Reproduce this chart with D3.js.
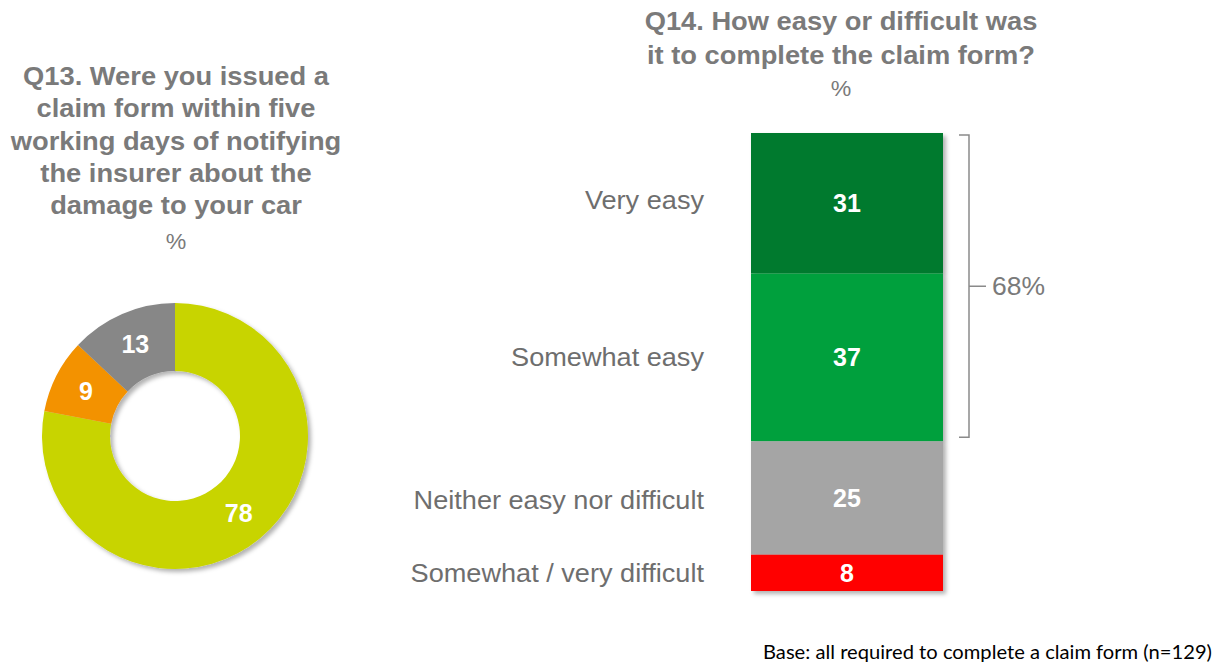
<!DOCTYPE html>
<html><head><meta charset="utf-8">
<script src="https://cdn.jsdelivr.net/npm/d3@7"></script>
<style>body{margin:0;background:#fff;}svg{display:block;}</style>
</head><body>
<svg id="c" width="1221" height="666"></svg>
<script>
const q13Title = ["Q13. Were you issued a","claim form within five","working days of notifying","the insurer about the","damage to your car"];
const q13Labels = ["Yes","No","Don't know"];
const q13Values = [78, 9, 13];
const q13Colors = ["#c8d400","#f39200","#878787"];

const q14Title = ["Q14. How easy or difficult was","it to complete the claim form?"];
const q14Categories = ["Very easy","Somewhat easy","Neither easy nor difficult","Somewhat / very difficult"];
const q14Values = [31, 37, 25, 8];
const q14Colors = ["#007a2f","#00a03c","#a5a5a5","#ff0000"];
const bracketLabel = "68%";
const footnote = "Base: all required to complete a claim form (n=129)";

const FONT = "'Liberation Sans', Arial, sans-serif";
const svg = d3.select("#c");
const grey = "#7a7a7a";
const defs = svg.append("defs");
const f = defs.append("filter").attr("id","sh").attr("x","-10%").attr("y","-10%").attr("width","130%").attr("height","130%");
f.append("feDropShadow").attr("dx",3).attr("dy",3).attr("stdDeviation",2).attr("flood-color","#000").attr("flood-opacity",0.3);

// helper: horizontally stretched text centred/anchored at x
function stext(parent, x, y, txt, size, sx, anchor, weight, fill){
  return parent.append("text")
    .attr("transform",`translate(${x},${y}) scale(${sx},1)`)
    .attr("text-anchor",anchor).attr("font-family",FONT).attr("font-size",size)
    .attr("font-weight",weight).attr("fill",fill).text(txt);
}

// Q13 title
q13Title.forEach((l,i)=>stext(svg,176,85+i*32.3,l,26,1.05,"middle","bold",grey));
stext(svg,176,249,"%",22,1.05,"middle","normal",grey);

// Donut
const cx=175, cy=436, ro=133, ri=65;
const pie = d3.pie().sort(null).value(d=>d);
const arc = d3.arc().innerRadius(ri).outerRadius(ro);
const g = svg.append("g").attr("transform",`translate(${cx},${cy})`);
const arcs = pie(q13Values);
g.append("g").attr("filter","url(#sh)").selectAll("path").data(arcs).join("path")
  .attr("d",arc).attr("fill",(d,i)=>q13Colors[i]);
const lblArc = d3.arc().innerRadius(200).outerRadius(0);
g.selectAll("text.v").data(arcs).join("text").attr("class","v")
  .attr("transform",d=>{const c=lblArc.centroid(d);return `translate(${c[0]},${c[1]})`;})
  .attr("text-anchor","middle").attr("dy","0.36em")
  .attr("font-family",FONT).attr("font-weight","bold").attr("font-size",25).attr("fill","#fff")
  .text(d=>d.data);

// Q14 title
q14Title.forEach((l,i)=>stext(svg,841,30+i*34,l,26,1.05,"middle","bold",grey));
stext(svg,841,96,"%",22,1.05,"middle","normal",grey);

// Stacked bar
const total = d3.sum(q14Values);
const y = d3.scaleLinear().domain([0,total]).range([133,591]);
const cum = [];
q14Values.reduce((a,v,i)=>{cum.push([a,a+v]);return a+v;},0);
const bx=751, bw=192;
const bars = svg.append("g").attr("filter","url(#sh)");
bars.selectAll("rect").data(q14Values).join("rect")
  .attr("x",bx).attr("width",bw)
  .attr("y",(d,i)=>y(cum[i][0])).attr("height",(d,i)=>y(cum[i][1])-y(cum[i][0]))
  .attr("fill",(d,i)=>q14Colors[i]);
svg.selectAll("text.bv").data(q14Values).join("text").attr("class","bv")
  .attr("x",bx+bw/2).attr("y",(d,i)=>(y(cum[i][0])+y(cum[i][1]))/2).attr("dy","0.36em")
  .attr("text-anchor","middle").attr("font-family",FONT).attr("font-weight","bold")
  .attr("font-size",25).attr("fill","#fff").text(d=>d);
const catShift = [-3, 0, 2, 0];
q14Categories.forEach((c,i)=>{
  const ym = (y(cum[i][0])+y(cum[i][1]))/2 + catShift[i];
  stext(svg,704,ym+9,c,25,1.085,"end","normal","#6e6e6e");
});

// bracket
const by0 = y(0)+2, by1 = y(q14Values[0]+q14Values[1]) - 4;
const bxr = 969;
const bmid = (by0+by1)/2;
svg.append("path").attr("d",`M${bxr-10},${by0}H${bxr}V${by1}H${bxr-10}M${bxr},${bmid}H${bxr+17}`)
  .attr("fill","none").attr("stroke","#8a8a8a").attr("stroke-width",1.5);
stext(svg,bxr+23,bmid+9,bracketLabel,25,1.06,"start","normal",grey);

// footnote
svg.append("text").attr("x",763).attr("y",659).attr("textLength",449).attr("lengthAdjust","spacingAndGlyphs")
  .attr("font-family","Lato, sans-serif").attr("font-size",19).attr("fill","#000").text(footnote);
</script>
</body></html>
